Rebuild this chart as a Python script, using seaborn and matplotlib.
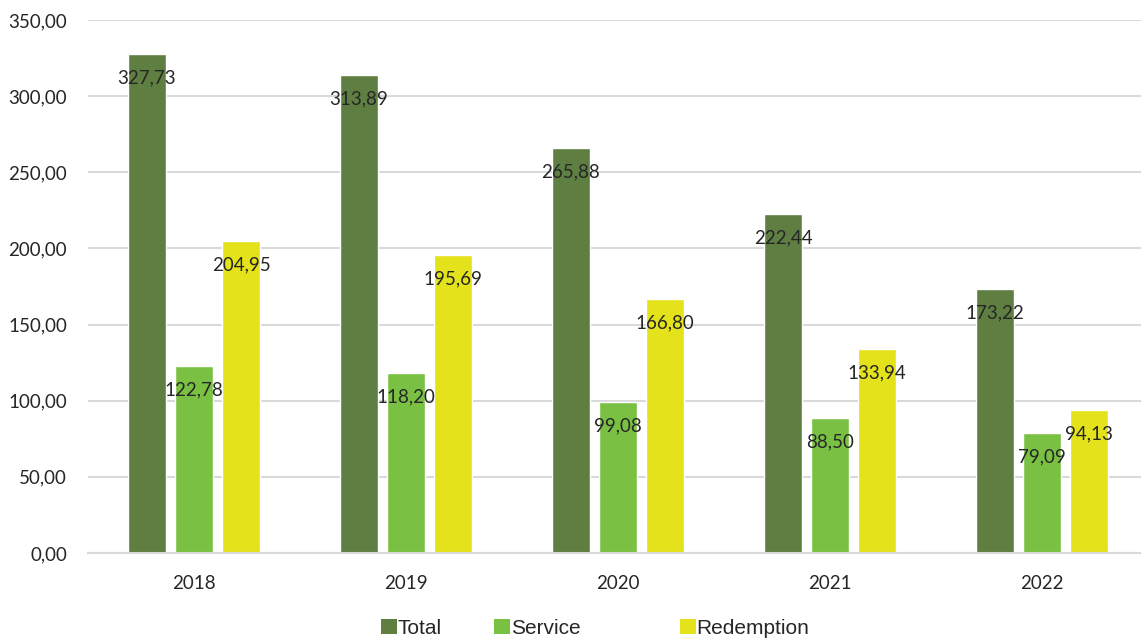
import matplotlib
matplotlib.use("Agg")
import matplotlib.pyplot as plt
from matplotlib.patches import Patch
import seaborn as sns
import pandas as pd

years = ["2018", "2019", "2020", "2021", "2022"]
total = [327.73, 313.89, 265.88, 222.44, 173.22]
service = [122.78, 118.20, 99.08, 88.50, 79.09]
redemption = [204.95, 195.69, 166.80, 133.94, 94.13]
series = ["Total", "Service", "Redemption"]
colors = ["#5E7F41", "#7AC143", "#E3E21B"]
y_ticks = [0, 50, 100, 150, 200, 250, 300, 350]


def fmt(v):
    return f"{v:.2f}".replace(".", ",")


df = pd.DataFrame({
    "year": years * 3,
    "value": total + service + redemption,
    "series": [s for s in series for _ in years],
})

sns.set_theme(style="white")
plt.rcParams["font.family"] = ["Lato", "DejaVu Sans"]

fig = plt.figure(figsize=(11.41, 6.39), dpi=100)
ax = fig.add_axes([88 / 1141, 86 / 639, 1060 / 1141, 533 / 639])

sns.barplot(data=df, x="year", y="value", hue="series", order=years,
            hue_order=series, palette=colors, width=0.666, gap=0.21,
            saturation=1, errorbar=None, legend=False, ax=ax)

for container in ax.containers:
    for bar in container:
        h = bar.get_height()
        ax.annotate(fmt(h), (bar.get_x() + bar.get_width() / 2, h),
                    xytext=(0, -24), textcoords="offset pixels",
                    ha="center", va="center", fontsize=13.5, color="#262626")

ax.set_ylim(0, 350)
ax.set_xlim(-0.5, 4.5)
ax.set_yticks(y_ticks)
ax.set_yticklabels([fmt(v) for v in y_ticks])
ax.yaxis.grid(True, color="#D9D9D9", linewidth=1.5)
ax.set_axisbelow(True)
for side in ["top", "right", "left"]:
    ax.spines[side].set_visible(False)
ax.spines["bottom"].set_color("#D9D9D9")
ax.spines["bottom"].set_linewidth(1.5)
ax.tick_params(axis="y", length=0, pad=15, labelsize=13.5, labelcolor="#262626")
ax.tick_params(axis="x", length=0, pad=16, labelsize=13.5, labelcolor="#262626")
ax.set_xlabel("")
ax.set_ylabel("")

# legend entries placed individually along the bottom
legend_x = [381, 494, 680]
for name, col, x in zip(series, colors, legend_x):
    leg = fig.legend(handles=[Patch(facecolor=col, edgecolor="none")],
                     labels=[name], loc="center left",
                     bbox_to_anchor=(x / 1141, 1 - 628 / 639),
                     frameon=False, handlelength=0.75, handleheight=0.75,
                     handletextpad=0.05, borderpad=0, borderaxespad=0,
                     prop={"family": "Liberation Sans", "size": 15})
    for t in leg.get_texts():
        t.set_color("#262626")

fig.savefig("out.png", dpi=100)
